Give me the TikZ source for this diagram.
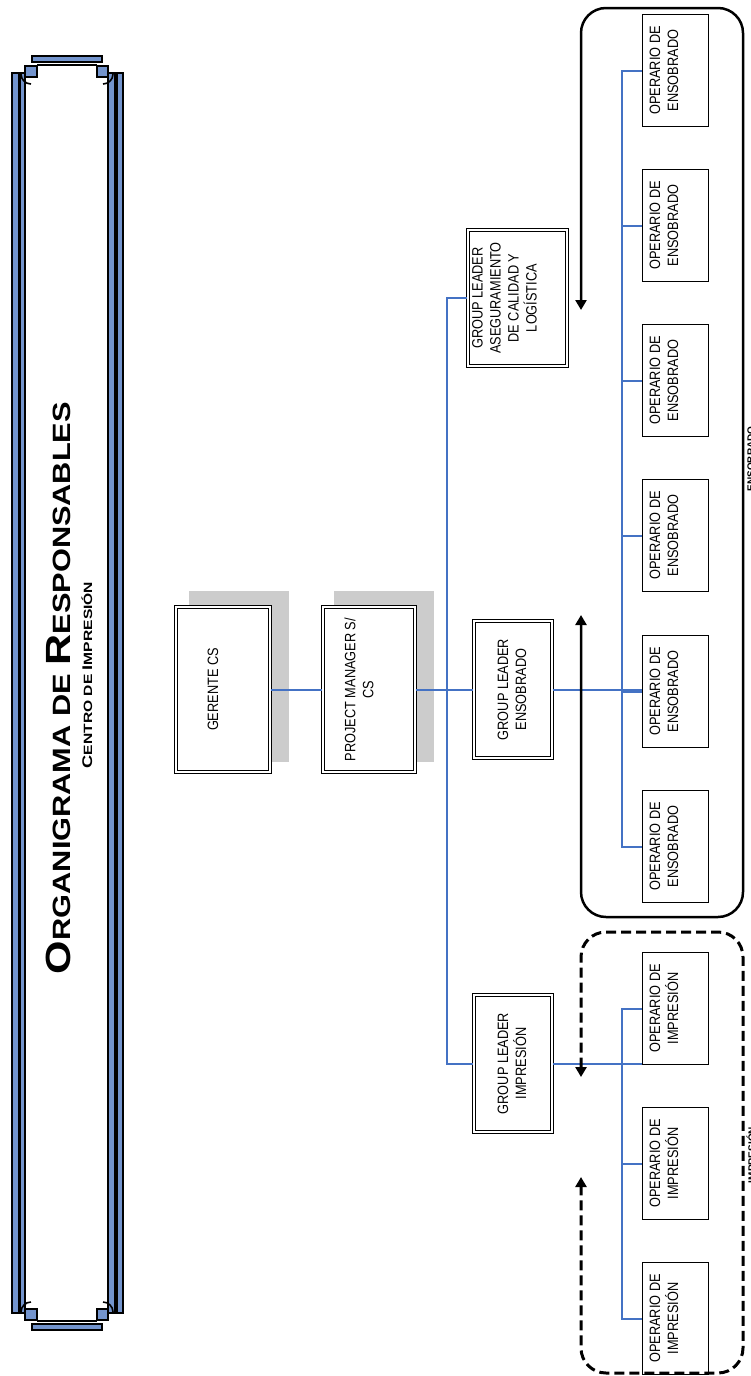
\documentclass[tikz,border=0pt]{standalone}
\usepackage{fontspec}
\setmainfont{Liberation Sans}
\newfontfamily\narrowfont[FakeStretch=0.85]{Liberation Sans}
\newfontfamily\titlefont[FakeStretch=1.23]{Liberation Sans Bold}
\newfontfamily\subtitlefont[FakeStretch=1.3]{Liberation Sans Bold}
\usetikzlibrary{arrows.meta,calc,backgrounds}

\definecolor{linkblue}{RGB}{68,114,196}
\definecolor{frameblue}{RGB}{115,148,205}
\definecolor{shadowgray}{RGB}{204,204,204}

\tikzset{
  frm/.style={draw=black, line width=1.2pt, fill=frameblue},
  dblbox/.style={draw=black, fill=white, double=white, line width=1.1pt,
    double distance=1.8pt, inner sep=0pt},
  opbox/.style={draw=black, fill=white, line width=1.4pt, inner sep=0pt,
    minimum width=66pt, minimum height=112pt},
  boxtext/.style={rotate=90, align=center, inner sep=0pt,
    font=\narrowfont\fontsize{15}{18}\selectfont},
  link/.style={draw=linkblue, line width=2pt},
  grpsolid/.style={draw=black, line width=2.5pt, rounded corners=25pt,
    {Triangle[length=10pt,width=11pt]}-{Triangle[length=10pt,width=11pt]}},
  grpdashed/.style={grpsolid, line width=3pt, dash pattern=on 10pt off 5pt},
  grplabel/.style={rotate=90, fill=white, inner sep=1pt,
    font=\bfseries\fontsize{10}{10}\selectfont}
}

\begin{document}
\begin{tikzpicture}[x=1pt, y=-1pt]
\useasboundingbox (0,0) rectangle (751,1376);
\clip (0,0) rectangle (751,1376);

% ---------- title frame ----------
\draw[frm] (12,73) rectangle (19,1313);
\draw[frm] (20,73) rectangle (25,1313);
\draw[frm] (108,73) rectangle (115,1313);
\draw[frm] (117,73) rectangle (123,1313);
% top cap
\draw[frm] (32,56) rectangle (102,62);
\draw[line width=1.2pt] (37,65) -- (97,65);
\draw[frm] (25,66) rectangle (37,77);
\draw[frm] (97,66) rectangle (108,77);
\draw[line width=1.6pt] (21,74) arc[start angle=180, end angle=90, radius=10];
\draw[line width=1.6pt] (113,74) arc[start angle=0, end angle=90, radius=10];
% bottom cap
\draw[frm] (32,1324) rectangle (102,1330);
\draw[line width=1.2pt] (37,1321) -- (97,1321);
\draw[frm] (25,1309) rectangle (37,1320);
\draw[frm] (97,1309) rectangle (108,1320);
\draw[line width=1.6pt] (21,1312) arc[start angle=180, end angle=270, radius=10];
\draw[line width=1.6pt] (113,1312) arc[start angle=0, end angle=-90, radius=10];

\node[rotate=90, anchor=base, inner sep=0pt] (title) at (70,688)
  {\titlefont\fontsize{35}{35}\selectfont O\fontsize{25}{25}\selectfont RGANIGRAMA DE
   \fontsize{35}{35}\selectfont R\fontsize{25}{25}\selectfont ESPONSABLES};
\node[rotate=90, anchor=base, inner sep=0pt] (subtitle) at (92,675)
  {\subtitlefont\fontsize{14}{14}\selectfont C\fontsize{12}{12}\selectfont ENTRO DE
   \fontsize{14}{14}\selectfont I\fontsize{12}{12}\selectfont MPRESIÓN};

% ---------- management boxes ----------
\node[dblbox, minimum width=94pt, minimum height=165pt] (gerente) at (223,689.5) {};
\node[dblbox, minimum width=92pt, minimum height=165pt] (pm) at (369,689.5) {};
\begin{scope}[on background layer]
  \fill[white] (0,0) rectangle (751,1376);
  \fill[shadowgray] ($(gerente.south west)+(14,-11)$) rectangle ($(gerente.north east)+(18,-15)$);
  \fill[shadowgray] ($(pm.south west)+(12,-11)$) rectangle ($(pm.north east)+(18,-15)$);
\end{scope}
\node[boxtext] (gerente-t) at (213,689.5) {GERENTE CS};
\node[boxtext] (pm-t) at (359,689.5) {PROJECT MANAGER S/\\CS};

% ---------- group leaders ----------
\node[dblbox, minimum width=99pt, minimum height=136pt] (glcal) at (517.5,298) {};
\node[dblbox, minimum width=78pt, minimum height=137pt] (glens) at (513,689.5) {};
\node[dblbox, minimum width=78pt, minimum height=137pt] (glimp) at (513,1063.5) {};
\node[boxtext] (glcal-t) at (504.5,298) {GROUP LEADER\\ASEGURAMIENTO\\DE CALIDAD Y\\LOGÍSTICA};
\node[boxtext] (glens-t) at (512,689.5) {GROUP LEADER\\ENSOBRADO};
\node[boxtext] (glimp-t) at (512,1063.5) {GROUP LEADER\\IMPRESIÓN};

% ---------- operators: ensobrado ----------
\foreach \i/\y in {1/70.5, 2/225.5, 3/380.5, 4/535.5, 5/691.5, 6/846.5} {
  \node[opbox] (oe\i) at (675.5,\y) {};
  \node[boxtext] (oe\i-t) at (664,\y) {OPERARIO DE\\ENSOBRADO};
}
% ---------- operators: impresion ----------
\foreach \i/\y in {1/1008.5, 2/1163.5, 3/1318.5} {
  \node[opbox] (oi\i) at (675.5,\y) {};
  \node[boxtext] (oi\i-t) at (664,\y) {OPERARIO DE\\IMPRESIÓN};
}

% ---------- connectors ----------
\draw[link] (gerente.east) -- (pm.west);
\draw[link] (pm.east) -- (glens.west);
\draw[link] (glcal.west) -- ++(-20,0) |- (glimp.west);
\draw[link] (glens.east) -- (glens.east -| oe5.west);
\draw[link] (oe1.west) -- ++(-20,0) |- (oe6.west);
\foreach \i in {2,3,4,5} { \draw[link] (oe\i.west) -- ++(-20,0); }
\draw[link] (glimp.east) -- (glimp.east -| oi1.west) ;
\draw[link] (oi1.west) -- ++(-20,0) |- (oi3.west);
\draw[link] (oi2.west) -- ++(-20,0);

% ---------- group outlines ----------
\coordinate (ens-a) at (581,310);
\coordinate (ens-b) at (581,615);
\draw[grpsolid] (ens-a) -- (581,8) -- (743,8) -- (743,917) -- (581,917) -- (ens-b);
\node[grplabel] (ens-label) at (751,459) {ENSOBRADO};

\coordinate (imp-a) at (581,1077);
\coordinate (imp-b) at (581,1177);
\draw[grpdashed] (imp-a) -- (581,932) -- (743,932) -- (743,1373) -- (581,1373) -- (imp-b);
\node[grplabel] (imp-label) at (751,1155) {IMPRESIÓN};
\end{tikzpicture}
\end{document}
